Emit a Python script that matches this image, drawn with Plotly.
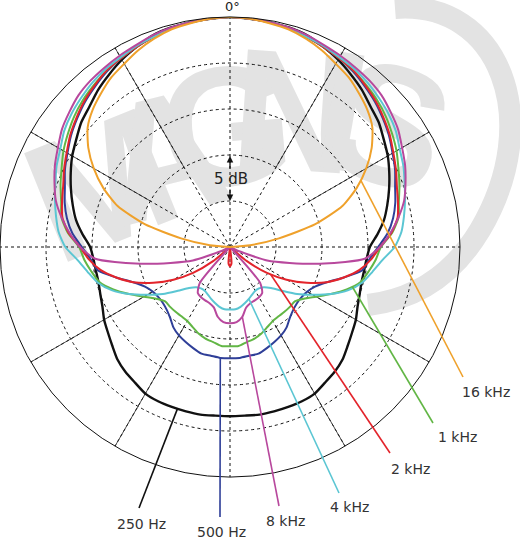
import numpy as np
import plotly.graph_objects as go

# Polar pattern, levels in dB relative to 0 deg, read every 5 deg from 0 to 180.
# The pattern is symmetric, the other half is the mirror image.
angles_half = list(range(0, 185, 5))

db_250hz = [0.0, -0.1, -0.2, -0.3, -0.5, -1.0, -1.5, -2.1, -2.7, -3.4, -3.9, -4.6, -5.2,
            -5.9, -6.6, -7.3, -8.0, -8.9, -9.8, -10.1, -10.2, -10.2, -10.0, -9.7, -9.2,
            -8.8, -8.3, -7.7, -7.3, -7.0, -6.6, -6.5, -6.5, -6.5, -6.5, -6.6, -6.6]
db_500hz = [0.0, -0.1, -0.2, -0.4, -0.7, -1.0, -1.3, -1.7, -2.2, -2.7, -3.3, -3.9, -4.6,
            -5.2, -5.9, -6.4, -7.0, -7.8, -8.9, -9.8, -10.4, -12.2, -13.8, -14.8, -15.3,
            -15.5, -15.5, -15.3, -14.9, -14.3, -13.9, -13.6, -13.3, -13.0, -13.0, -12.9, -12.9]
db_1khz = [0.0, -0.1, -0.2, -0.4, -0.7, -1.0, -1.3, -1.6, -2.0, -2.4, -2.9, -3.5, -4.1,
           -4.8, -5.4, -6.0, -6.4, -7.3, -8.6, -9.1, -9.7, -10.3, -11.5, -12.9, -14.2,
           -15.2, -15.8, -15.8, -15.8, -15.8, -15.7, -15.4, -15.0, -14.7, -14.5, -14.2, -14.2]
db_2khz = [0.0, -0.1, -0.2, -0.4, -0.7, -1.0, -1.3, -1.6, -2.1, -2.6, -3.2, -3.8, -4.5,
           -5.1, -5.7, -6.1, -6.5, -7.4, -8.7, -9.6, -10.7, -12.2, -13.8, -15.8, -17.9,
           -20.1, -22.6, -25.0, -25.0, -25.0, -25.0, -25.0, -25.0, -25.0, -25.0, -23.2, -22.9]
db_4khz = [0.0, -0.1, -0.2, -0.4, -0.7, -0.9, -1.2, -1.4, -1.7, -2.1, -2.5, -3.0, -3.7,
           -4.2, -4.8, -5.3, -5.8, -6.3, -7.1, -8.4, -9.3, -10.1, -11.3, -12.9, -14.6,
           -16.1, -17.6, -18.7, -19.3, -19.5, -19.5, -19.3, -19.0, -18.7, -18.4, -18.2, -18.2]
db_8khz = [0.0, -0.1, -0.2, -0.3, -0.5, -0.8, -1.0, -1.2, -1.4, -1.7, -2.2, -2.7, -3.4,
           -4.0, -4.7, -5.4, -6.4, -7.5, -8.7, -10.3, -14.6, -18.3, -20.7, -23.9, -25.0,
           -25.0, -25.0, -25.0, -19.9, -18.9, -18.7, -18.6, -18.5, -18.2, -17.3, -16.8, -16.7]
db_16khz = [0.0, -0.1, -0.3, -0.5, -0.9, -1.4, -2.0, -2.5, -3.2, -3.9, -4.8, -6.2, -7.9,
            -9.8, -12.0, -15.4, -19.6, -22.8, -25.0, -25.0, -25.0, -25.0, -25.0, -25.0,
            -25.0, -25.0, -25.0, -25.0, -25.0, -25.0, -25.0, -25.0, -25.0, -25.0, -25.0,
            -25.0, -25.0]

series = [
    ("250 Hz", db_250hz, "#111111", 2.4),
    ("500 Hz", db_500hz, "#2f3f98", 2.0),
    ("1 kHz", db_1khz, "#62b645", 2.0),
    ("2 kHz", db_2khz, "#e3242b", 2.0),
    ("4 kHz", db_4khz, "#5bc6d3", 2.0),
    ("8 kHz", db_8khz, "#b8489d", 2.0),
    ("16 kHz", db_16khz, "#efa12b", 2.0),
]

# label: (series, angle where the leader starts, leader end px, label centre px)
callouts = [
    ("16 kHz", 63, (463, 377), (486, 392)),
    ("1 kHz", 108, (433, 423), (457, 437)),
    ("2 kHz", 124, (390, 453), (410, 469)),
    ("4 kHz", 160, (339, 493), (349, 507)),
    ("8 kHz", 170, (279, 506), (285, 521)),
    ("500 Hz", 185, (220, 517), (221, 532)),
    ("250 Hz", 198, (139, 508), (141, 524)),
]

R_MIN = -25
W, H = 520, 545
ML, MR, MT, MB = 0, 60, 17, 68
SIDE = W - ML - MR          # 460 px square for the polar
CX, CY, RAD = ML + SIDE / 2, MT + SIDE / 2, SIDE / 2


def full_circle(half):
    theta = angles_half + [360 - a for a in angles_half[-2::-1]]
    r = list(half) + list(half[-2::-1])
    return theta, r


def to_paper(x, y):
    return (x - ML) / SIDE, (MT + SIDE - y) / SIDE


def polar_to_px(angle, db):
    rp = (db - R_MIN) / (0 - R_MIN) * RAD
    a = np.radians(angle)
    return CX + rp * np.sin(a), CY - rp * np.cos(a)


def text_at(px, py, text, size, color="#333333"):
    x, y = to_paper(px, py)
    return dict(x=x, y=y, xref="paper", yref="paper", text=text, showarrow=False,
                xanchor="center", yanchor="middle", font=dict(size=size, color=color))


fig = go.Figure()

# solid outer part of the 30 deg spokes (inner part stays dotted)
for a in [30, 60, 120, 150, 210, 240, 300, 330]:
    fig.add_trace(go.Scatterpolar(r=[-15, 0], theta=[a, a], mode="lines",
                                  line=dict(color="#222222", width=0.8),
                                  hoverinfo="skip", showlegend=False))

for name, vals, color, width in series:
    th, rr = full_circle(vals)
    fig.add_trace(go.Scatterpolar(r=rr, theta=th, mode="lines", name=name,
                                  line=dict(color=color, width=width, shape="spline",
                                            smoothing=0.6)))

lookup = {name: (vals, color) for name, vals, color, _ in series}
shapes = []
annotations = []
for name, ang, end, lab in callouts:
    vals, color = lookup[name]
    th, rr = full_circle(vals)
    db = np.interp(ang, th, rr)
    x0, y0 = to_paper(*polar_to_px(ang, db))
    x1, y1 = to_paper(*end)
    shapes.append(dict(type="line", xref="paper", yref="paper", x0=x0, y0=y0, x1=x1, y1=y1,
                       line=dict(color=color, width=1.6)))
    annotations.append(text_at(lab[0], lab[1], name, 14))

annotations.append(text_at(233, 7, "0°", 13, "#222222"))
annotations.append(text_at(231, 179, "5 dB", 15, "#222222"))
for head, dy in [((230, 156), 14), ((230, 201), -13)]:
    hx, hy = to_paper(*head)
    annotations.append(dict(x=hx, y=hy, xref="paper", yref="paper", text="", showarrow=True,
                            ax=0, ay=dy, arrowhead=2, arrowsize=1, arrowwidth=1.3,
                            arrowcolor="#111111"))

# watermark
wm_letters = [("M", (95, 170), -22), ("A", (160, 140), -14), ("G", (225, 110), -5),
              ("N", (295, 95), 4), ("I", (345, 95), 10), ("S", (395, 110), 18)]
for ch, (px, py), ang in wm_letters:
    xa, ya = to_paper(px - 60, py + 80)
    xb, yb = to_paper(px + 60, py - 80)
    shapes.append(dict(type="rect", xref="paper", yref="paper", x0=xa, y0=ya, x1=xb, y1=yb,
                       layer="below", line=dict(width=0), fillcolor="rgba(0,0,0,0)",
                       label=dict(text=ch, textangle=ang, textposition="middle center",
                                  font=dict(size=170, color="#e3e3e3",
                                            family="Liberation Sans Narrow, Liberation Sans",
                                            weight="bold"))))
pts = [(395, 8), (500, 0), (545, 120), (480, 230), (450, 280), (410, 300), (368, 305)]
pp = [to_paper(*p) for p in pts]
path = "M {0},{1} C {2},{3} {4},{5} {6},{7} C {8},{9} {10},{11} {12},{13}".format(
    *[v for p in pp for v in p])
shapes.append(dict(type="path", xref="paper", yref="paper", path=path, layer="below",
                   line=dict(color="#e3e3e3", width=22)))

fig.update_layout(
    width=W, height=H,
    margin=dict(l=ML, r=MR, t=MT, b=MB, autoexpand=False),
    paper_bgcolor="white",
    showlegend=False,
    font=dict(family="DejaVu Sans", color="#222222"),
    polar=dict(
        domain=dict(x=[0, 1], y=[0, 1]),
        bgcolor="rgba(0,0,0,0)",
        radialaxis=dict(range=[R_MIN, 0], tickvals=[-20, -15, -10, -5], showticklabels=False,
                        ticks="", showline=False, gridcolor="#111111", griddash="dot",
                        gridwidth=1),
        angularaxis=dict(rotation=90, direction="clockwise", tickvals=list(range(0, 360, 30)),
                         showticklabels=False, ticks="", showline=True,
                         linecolor="#111111", linewidth=1, gridcolor="#111111",
                         griddash="dot", gridwidth=1),
    ),
    shapes=shapes,
    annotations=annotations,
)

# the page body has a default 8px margin; drop it so the figure sits at the window origin
fig.write_html("out.html", config={"displayModeBar": False},
               post_script="document.body.style.margin = '0';")
